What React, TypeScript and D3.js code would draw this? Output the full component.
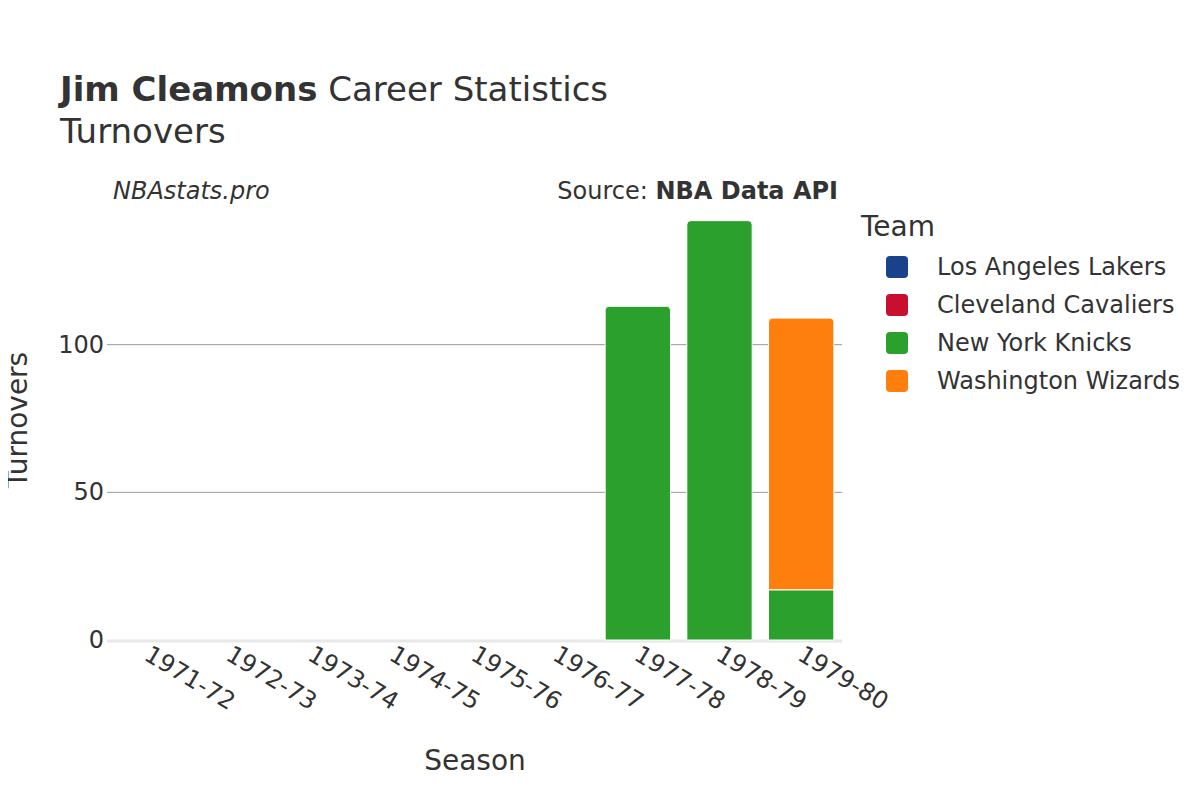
import * as d3 from 'd3'

const seasons = ['1971-72', '1972-73', '1973-74', '1974-75', '1975-76', '1976-77', '1977-78', '1978-79', '1979-80']
const teams = ['Los Angeles Lakers', 'Cleveland Cavaliers', 'New York Knicks', 'Washington Wizards']
const teamColors = ['#1a428a', '#c8102e', '#2ca02c', '#ff7f0e']
const lakers = [0, 0, 0, 0, 0, 0, 0, 0, 0]
const cavaliers = [0, 0, 0, 0, 0, 0, 0, 0, 0]
const knicks = [0, 0, 0, 0, 0, 0, 113, 142, 17]
const wizards = [0, 0, 0, 0, 0, 0, 0, 0, 92]
const yTicks = [0, 50, 100]

const series = [lakers, cavaliers, knicks, wizards]

const width = 1200
const height = 800
const margin = { left: 107, right: 358, top: 197, bottom: 160 }
const font = '"DejaVu Sans", sans-serif'
const textColor = '#333'

function topRounded(x: number, y: number, w: number, h: number, r: number) {
  const rr = Math.min(r, h, w / 2)
  return `M${x},${y + h}V${y + rr}Q${x},${y} ${x + rr},${y}H${x + w - rr}Q${x + w},${y} ${x + w},${y + rr}V${y + h}Z`
}

export default function App() {
  const x = d3.scaleBand<string>()
    .domain(seasons)
    .range([margin.left, width - margin.right])
    .paddingInner(0.2)
    .paddingOuter(0.1)
  const y = d3.scaleLinear()
    .domain([0, 150])
    .range([height - margin.bottom, margin.top])

  const rows = seasons.map((s, i) => {
    const r: Record<string, number | string> = { season: s }
    teams.forEach((t, j) => { r[t] = series[j][i] })
    return r
  })
  const stacked = d3.stack<Record<string, number | string>>().keys(teams)(rows as any)

  // top non-zero segment of each stack gets the rounded corners
  const topIdx = seasons.map((_, i) => {
    let k = -1
    series.forEach((s, j) => { if (s[i] > 0) k = j })
    return k
  })

  return (
    <svg width={width} height={height} style={{ display: 'block', margin: '-8px' }}>
      <rect width={width} height={height} fill="#fff" />
      <text x={60} y={101} fontFamily={font} fontSize={34} fill={textColor}>
        <tspan fontWeight="bold">Jim Cleamons</tspan> Career Statistics
      </text>
      <text x={60} y={143} fontFamily={font} fontSize={34} fill={textColor}>Turnovers</text>
      <text x={113} y={199} fontFamily={font} fontSize={24} fontStyle="italic" fill={textColor}>NBAstats.pro</text>
      <text x={838} y={199} fontFamily={font} fontSize={24} textAnchor="end" fill={textColor}>
        Source: <tspan fontWeight="bold">NBA Data API</tspan>
      </text>

      {yTicks.filter(t => t > 0).map(t => (
        <line key={t} x1={margin.left} x2={width - margin.right} y1={y(t)} y2={y(t)} stroke="#999" strokeWidth={1} />
      ))}
      <line x1={margin.left} x2={width - margin.right} y1={y(0) + 1} y2={y(0) + 1} stroke="#e8e8e8" strokeWidth={3} />

      {stacked.map((layer, j) => layer.map((d, i) => {
        const v = d[1] - d[0]
        if (v <= 0) return null
        const bx = x(seasons[i])!
        const bw = x.bandwidth()
        const by = y(d[1])
        const bh = y(d[0]) - y(d[1])
        const path = topIdx[i] === j ? topRounded(bx, by, bw, bh, 4) : `M${bx},${by}h${bw}v${bh}h${-bw}Z`
        return <path key={`${j}-${i}`} d={path} fill={teamColors[j]} stroke="#fff" strokeWidth={1} />
      }))}

      {yTicks.map(t => (
        <text key={t} x={margin.left - 3} y={y(t) + 8} textAnchor="end" fontFamily={font} fontSize={24} fill={textColor}>{t}</text>
      ))}

      {seasons.map(s => {
        const cx = x(s)! + x.bandwidth() / 2
        return (
          <text key={s} transform={`translate(${cx - 5},${659}) rotate(31)`} fontFamily={font} fontSize={24} fill={textColor}>{s}</text>
        )
      })}

      <text x={475} y={770} textAnchor="middle" fontFamily={font} fontSize={28} fill={textColor}>Season</text>
      <text transform={`translate(27,420) rotate(-90)`} textAnchor="middle" fontFamily={font} fontSize={28} fill={textColor}>Turnovers</text>

      <text x={861} y={236} fontFamily={font} fontSize={28} fill={textColor}>Team</text>
      {teams.map((t, j) => (
        <g key={t} transform={`translate(886,${267 + j * 38})`}>
          <rect x={0} y={-11} width={22} height={22} rx={4} fill={teamColors[j]} />
          <text x={51} y={8} fontFamily={font} fontSize={24} fill={textColor}>{t}</text>
        </g>
      ))}
    </svg>
  )
}
